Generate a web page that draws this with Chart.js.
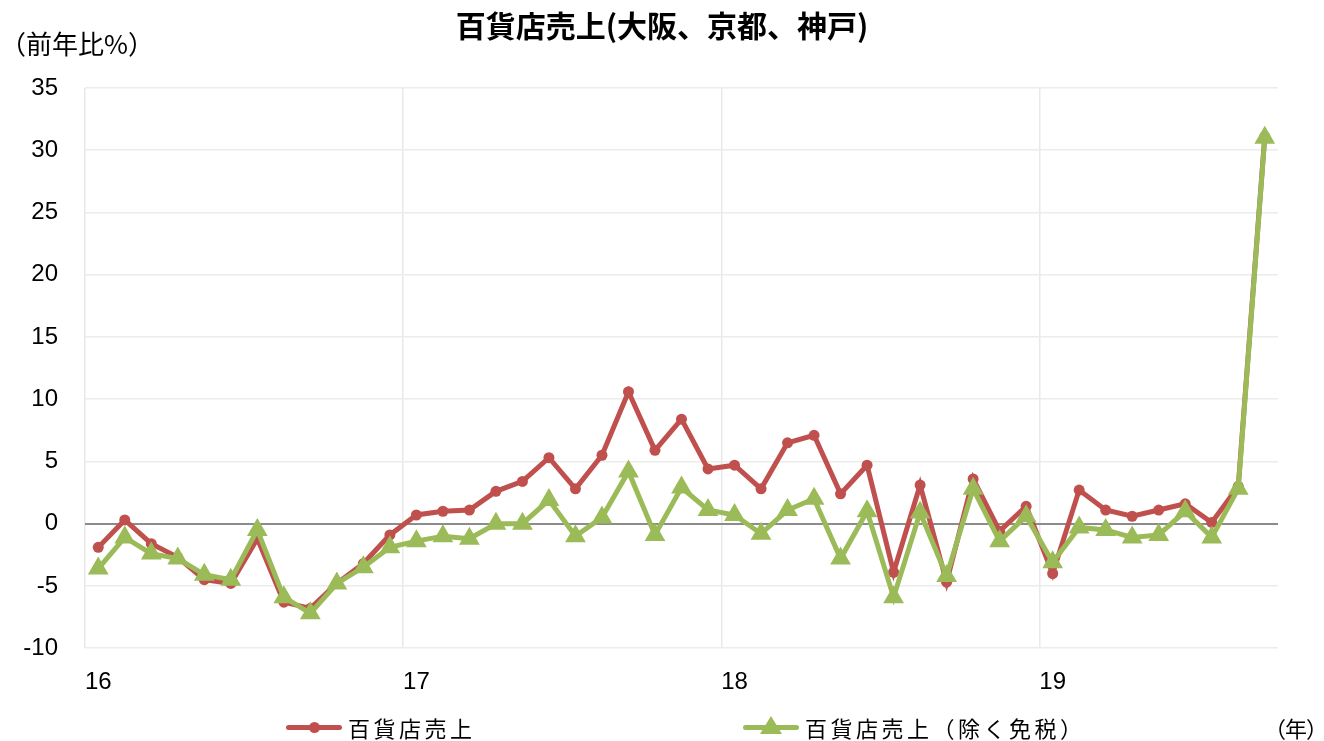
<!DOCTYPE html>
<html>
<head>
<meta charset="utf-8">
<script src="https://cdn.jsdelivr.net/npm/chart.js@4/dist/chart.umd.min.js"></script>
<style>
  html, body { margin: 0; padding: 0; background: #fff; }
  #wrap { position: relative; width: 1324px; height: 741px; overflow: hidden; }
  #chart { position: absolute; left: 0; top: 0; }
  .txt { position: absolute; font-family: "Noto Sans CJK JP", sans-serif; color: #000; white-space: nowrap; }
  #title { left: 0; width: 1324px; top: 5px; text-align: center; font-size: 30px; line-height: 38px; font-weight: bold; }
  #unit { left: 0px; top: 26px; font-size: 26px; line-height: 34px; }
  #yearUnit { left: 1264px; top: 712px; font-size: 22px; line-height: 30px; letter-spacing: -1px; }
  .leg { position: absolute; top: 712px; height: 30px; }
  .leg .ln { position: absolute; top: 13px; width: 56px; height: 5px; border-radius: 3px; }
  .leg .lbl { position: absolute; top: 0; font-size: 22px; line-height: 30px; letter-spacing: 3.5px; }
</style>
</head>
<body>
<div id="wrap">
  <canvas id="chart" width="1324" height="741"></canvas>
  <div class="txt" id="title">百貨店売上(大阪、京都、神戸)</div>
  <div class="txt" id="unit">（前年比%）</div>
  <div class="txt" id="yearUnit">（年）</div>
  <div class="leg" style="left:286px;">
    <div class="ln" style="background:#C0504D;"></div>
    <div style="position:absolute;left:23px;top:10px;width:11px;height:11px;border-radius:6px;background:#C0504D;"></div>
    <div class="txt lbl" style="left:62px;">百貨店売上</div>
  </div>
  <div class="leg" style="left:743px;">
    <div class="ln" style="background:#9BBB59;"></div>
    <div style="position:absolute;left:17px;top:4px;width:0;height:0;border-left:11px solid transparent;border-right:11px solid transparent;border-bottom:18px solid #9BBB59;"></div>
    <div class="txt lbl" style="left:62px;">百貨店売上（除く免税）</div>
  </div>
</div>
<script>
// 月次カテゴリ（2016年1月〜2019年9月）
const months = [
  '16/01','16/02','16/03','16/04','16/05','16/06','16/07','16/08','16/09','16/10','16/11','16/12',
  '17/01','17/02','17/03','17/04','17/05','17/06','17/07','17/08','17/09','17/10','17/11','17/12',
  '18/01','18/02','18/03','18/04','18/05','18/06','18/07','18/08','18/09','18/10','18/11','18/12',
  '19/01','19/02','19/03','19/04','19/05','19/06','19/07','19/08','19/09'
];

// 百貨店売上（前年比%）
const salesAll = [
  -1.9, 0.3, -1.6, -2.7, -4.5, -4.8, -1.2, -6.3, -6.8, -4.8, -3.2, -0.9,
  0.7, 1.0, 1.1, 2.6, 3.4, 5.3, 2.8, 5.5, 10.6, 5.9, 8.4, 4.4,
  4.7, 2.8, 6.5, 7.1, 2.4, 4.7, -3.9, 3.1, -4.7, 3.6, -0.6, 1.4,
  -4.0, 2.7, 1.1, 0.6, 1.1, 1.6, 0.1, 3.0, 31.1
];

// 百貨店売上（除く免税）
const salesExDutyFree = [
  -3.6, -1.1, -2.4, -2.8, -4.1, -4.5, -0.5, -5.9, -7.2, -4.8, -3.5, -1.9,
  -1.4, -1.0, -1.2, 0.0, 0.0, 1.9, -1.0, 0.5, 4.2, -0.9, 2.9, 1.1,
  0.7, -0.8, 1.1, 2.0, -2.8, 1.0, -5.9, 0.9, -4.2, 2.8, -1.4, 0.6,
  -3.1, -0.3, -0.5, -1.1, -0.9, 1.0, -1.1, 2.8, 31.0
];

const yMin = -10;
const yMax = 35;
const yStep = 5;

const tickFont = { family: '"Liberation Sans", Arial, sans-serif', size: 24 };

const ctx = document.getElementById('chart').getContext('2d');
new Chart(ctx, {
  type: 'line',
  data: {
    labels: months,
    datasets: [
      {
        label: '百貨店売上',
        data: salesAll,
        borderColor: '#C0504D',
        backgroundColor: '#C0504D',
        borderWidth: 5,
        pointStyle: 'circle',
        pointRadius: 5.5,
        pointBorderWidth: 0,
        tension: 0,
        order: 1
      },
      {
        label: '百貨店売上（除く免税）',
        data: salesExDutyFree,
        borderColor: '#9BBB59',
        backgroundColor: '#9BBB59',
        borderWidth: 5,
        pointStyle: 'triangle',
        pointRadius: 12,
        pointBorderWidth: 0,
        tension: 0,
        order: 0
      }
    ]
  },
  options: {
    responsive: false,
    animation: false,
    layout: {
      padding: { left: 0, right: 46, top: 88, bottom: 24 }
    },
    plugins: {
      legend: { display: false },
      tooltip: { enabled: false },
      title: { display: false }
    },
    scales: {
      x: {
        offset: true,
        grid: {
          offset: true,
          drawTicks: false,
          color: (c) => (c.index % 12 === 0 ? '#e9e9e9' : 'rgba(0,0,0,0)'),
          lineWidth: 1.5
        },
        border: { display: false },
        ticks: {
          autoSkip: false,
          maxRotation: 0,
          padding: 20,
          color: '#000',
          font: tickFont,
          callback: function (value) {
            const lbl = this.getLabelForValue(value);
            return lbl.endsWith('/01') ? lbl.slice(0, 2) : '';
          }
        }
      },
      y: {
        min: yMin,
        max: yMax,
        afterFit: (scale) => { scale.width = 85; },
        grid: {
          drawTicks: false,
          color: (c) => (c.tick && c.tick.value === 0 ? '#8c8c8c' : '#ececec'),
          lineWidth: (c) => (c.tick && c.tick.value === 0 ? 2 : 1.5)
        },
        border: { display: false },
        ticks: {
          stepSize: yStep,
          padding: 27,
          color: '#000',
          font: tickFont
        }
      }
    }
  }
});
</script>
</body>
</html>
